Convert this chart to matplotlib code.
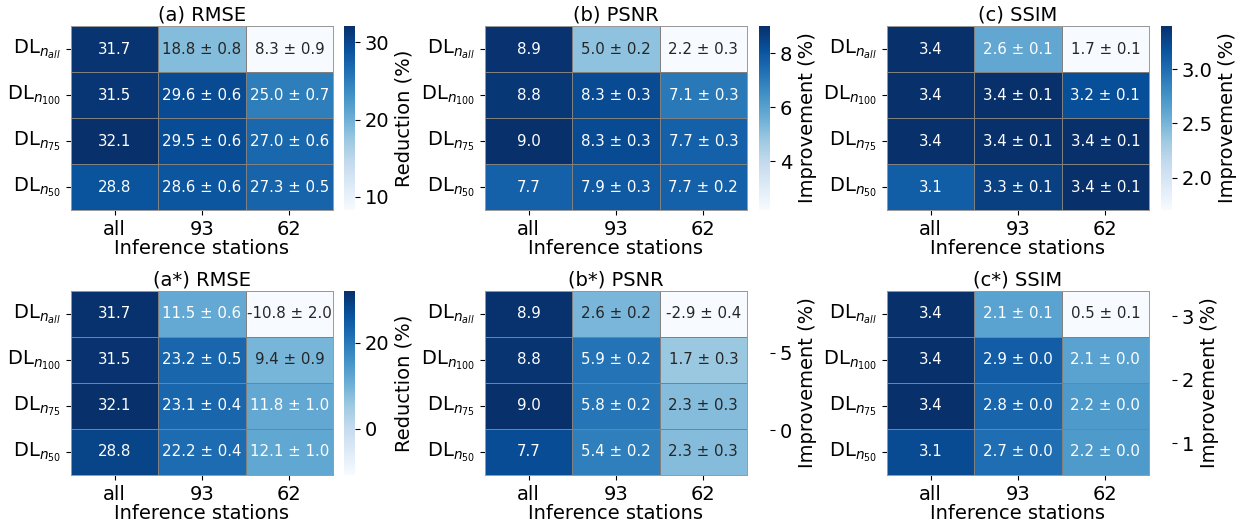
import numpy as np
import matplotlib
matplotlib.use('Agg')
import matplotlib.pyplot as plt
import seaborn as sns

rows = [r'DL$_{n_{all}}$', r'DL$_{n_{100}}$', r'DL$_{n_{75}}$', r'DL$_{n_{50}}$']
cols = ['all', '93', '62']

# mean values (first column has no std)
rmse = [[31.7, 18.8, 8.3], [31.5, 29.6, 25.0], [32.1, 29.5, 27.0], [28.8, 28.6, 27.3]]
rmse_sd = [[0.8, 0.9], [0.6, 0.7], [0.6, 0.6], [0.6, 0.5]]
psnr = [[8.9, 5.0, 2.2], [8.8, 8.3, 7.1], [9.0, 8.3, 7.7], [7.7, 7.9, 7.7]]
psnr_sd = [[0.2, 0.3], [0.3, 0.3], [0.3, 0.3], [0.3, 0.2]]
ssim = [[3.4, 2.6, 1.7], [3.4, 3.4, 3.2], [3.4, 3.4, 3.4], [3.1, 3.3, 3.4]]
ssim_sd = [[0.1, 0.1], [0.1, 0.1], [0.1, 0.1], [0.1, 0.1]]

rmse_s = [[31.7, 11.5, -10.8], [31.5, 23.2, 9.4], [32.1, 23.1, 11.8], [28.8, 22.2, 12.1]]
rmse_s_sd = [[0.6, 2.0], [0.5, 0.9], [0.4, 1.0], [0.4, 1.0]]
psnr_s = [[8.9, 2.6, -2.9], [8.8, 5.9, 1.7], [9.0, 5.8, 2.3], [7.7, 5.4, 2.3]]
psnr_s_sd = [[0.2, 0.4], [0.2, 0.3], [0.2, 0.3], [0.2, 0.3]]
ssim_s = [[3.4, 2.1, 0.5], [3.4, 2.9, 2.1], [3.4, 2.8, 2.2], [3.1, 2.7, 2.2]]
ssim_s_sd = [[0.1, 0.1], [0.0, 0.0], [0.0, 0.0], [0.0, 0.0]]

panels = [
    ('(a) RMSE', rmse, rmse_sd, 'Reduction (%)', [10, 20, 30], True),
    ('(b) PSNR', psnr, psnr_sd, 'Improvement (%)', [4, 6, 8], True),
    ('(c) SSIM', ssim, ssim_sd, 'Improvement (%)', [2.0, 2.5, 3.0], True),
    ('(a*) RMSE', rmse_s, rmse_s_sd, 'Reduction (%)', [0, 20], True),
    ('(b*) PSNR', psnr_s, psnr_s_sd, 'Improvement (%)', [0, 5], False),
    ('(c*) SSIM', ssim_s, ssim_s_sd, 'Improvement (%)', [1, 2, 3], False),
]


def make_labels(vals, sds):
    out = []
    for r, v in enumerate(vals):
        line = ['%.1f' % v[0]]
        for c in range(1, 3):
            line.append('%.1f ± %.1f' % (v[c], sds[r][c - 1]))
        out.append(line)
    return out


W, H = 1243, 526
fig = plt.figure(figsize=(W / 100, H / 100), dpi=100)

lefts = [71, 485, 887]
cb_lefts = [344, 759, 1161]
tops = [26, 291]

for i, (title, vals, sds, clabel, cticks, show_cb) in enumerate(panels):
    r, c = divmod(i, 3)
    ax = fig.add_axes([lefts[c] / W, 1 - (tops[r] + 184) / H, 262 / W, 184 / H])
    cax = fig.add_axes([cb_lefts[c] / W, 1 - (tops[r] + 184) / H, 11 / W, 184 / H])
    data = np.array(vals)
    sns.heatmap(data, ax=ax, cbar_ax=cax, cmap='Blues', annot=np.array(make_labels(vals, sds)),
                fmt='', annot_kws={'size': 10.8}, linewidths=0.7, linecolor='gray',
                xticklabels=cols, yticklabels=rows)
    for s in ax.spines.values():
        s.set_visible(True)
        s.set_color('#999999')
        s.set_linewidth(0.7)
    ax.set_title(title, fontsize=14, pad=4)
    ax.set_xlabel('Inference stations', fontsize=14, labelpad=0)
    ax.tick_params(axis='x', labelsize=14, rotation=0)
    ax.tick_params(axis='y', labelsize=14, rotation=0)
    cb = ax.collections[0].colorbar
    cb.set_ticks(cticks)
    cb.ax.tick_params(labelsize=14)
    cb.set_label(clabel, fontsize=14)
    if not show_cb:
        cb.solids.set_visible(False)

fig.savefig('out.png', dpi=100)
